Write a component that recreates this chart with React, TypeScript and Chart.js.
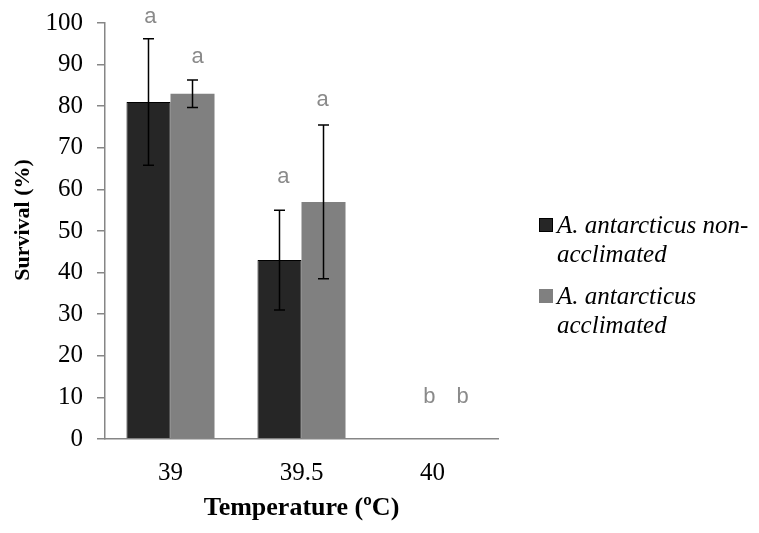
import React, { useEffect, useRef } from "react";
import { Chart, registerables } from "chart.js";

Chart.register(...registerables);

const categories = ["39", "39.5", "40"];
const nonAcclimated = [81, 43, 0];
const acclimated = [83, 57, 0];
const nonAcclimatedErr = [15.2, 12, 0];
const acclimatedErr = [3.3, 18.5, 0];
const nonAcclimatedLetters = ["a", "a", "b"];
const acclimatedLetters = ["a", "a", "b"];
const nonAcclimatedLetterAt = [101.4, 63, 10.1];
const acclimatedLetterAt = [91.8, 81.5, 10.1];
const legendLines = [
  ["A. antarcticus non-", "acclimated"],
  ["A. antarcticus", "acclimated"],
];
const yMin = 0;
const yMax = 100;
const yStep = 10;
const xTitle = "Temperature (\u00baC)";
const yTitle = "Survival (%)";

const DARK = "#262626";
const GRAY = "#808080";
const AXIS = "#868686";
const LETTER = "#8a8a8a";
const SERIF = "'Liberation Serif', 'Times New Roman', serif";
const SANS = "'Liberation Sans', Arial, sans-serif";
const letterDx = [
  [2, 4, 19],
  [5, -1, 8],
];

const errs = [nonAcclimatedErr, acclimatedErr];
const letters = [nonAcclimatedLetters, acclimatedLetters];
const letterAt = [nonAcclimatedLetterAt, acclimatedLetterAt];
const colors = [DARK, GRAY];

const overlayPlugin = {
  id: "overlay",
  afterDatasetsDraw(chart: any) {
    const ctx = chart.ctx as CanvasRenderingContext2D;
    const ys = chart.scales.y;
    ctx.save();
    chart.data.datasets.forEach((ds: any, di: number) => {
      const meta = chart.getDatasetMeta(di);
      meta.data.forEach((bar: any, i: number) => {
        const v = ds.data[i];
        const e = errs[di][i];
        const x = bar.x;
        if (e > 0) {
          const yt = ys.getPixelForValue(v + e);
          const yb = ys.getPixelForValue(v - e);
          ctx.strokeStyle = "#000";
          ctx.lineWidth = 1.5;
          ctx.beginPath();
          ctx.moveTo(x, yt);
          ctx.lineTo(x, yb);
          ctx.moveTo(x - 5.5, yt);
          ctx.lineTo(x + 5.5, yt);
          ctx.moveTo(x - 5.5, yb);
          ctx.lineTo(x + 5.5, yb);
          ctx.stroke();
        }
        ctx.fillStyle = LETTER;
        ctx.font = `22px ${SANS}`;
        ctx.textAlign = "center";
        ctx.textBaseline = "middle";
        ctx.fillText(letters[di][i], x + letterDx[di][i], ys.getPixelForValue(letterAt[di][i]));
      });
    });
    // y-axis title
    ctx.save();
    ctx.translate(23, chart.chartArea.top + 197);
    ctx.rotate(-Math.PI / 2);
    ctx.font = `bold 22px ${SERIF}`;
    ctx.fillStyle = "#000";
    ctx.textAlign = "center";
    ctx.textBaseline = "middle";
    ctx.fillText(yTitle, 0, 0);
    ctx.restore();
    // legend
    const lx = chart.chartArea.right + 41;
    let top = 218;
    ctx.font = `italic 25px ${SERIF}`;
    ctx.textAlign = "left";
    ctx.textBaseline = "middle";
    legendLines.forEach((lines, li) => {
      ctx.fillStyle = colors[li];
      ctx.fillRect(lx, top, 14, 14);
      if (li === 0) {
        ctx.strokeStyle = "#000";
        ctx.lineWidth = 1;
        ctx.strokeRect(lx + 0.5, top + 0.5, 13, 13);
      }
      ctx.fillStyle = "#000";
      lines.forEach((t, k) => {
        ctx.fillText(t, lx + 18, top + 8 + k * 29);
      });
      top += 71;
    });
    ctx.restore();
  },
};

export default function App() {
  const ref = useRef<HTMLCanvasElement | null>(null);
  useEffect(() => {
    if (!ref.current) return;
    const chart = new Chart(ref.current, {
      type: "bar",
      data: {
        labels: categories,
        datasets: [
          {
            label: legendLines[0].join(" "),
            data: nonAcclimated,
            backgroundColor: DARK,
            borderColor: "#000",
            borderWidth: 1,
          },
          {
            label: legendLines[1].join(" "),
            data: acclimated,
            backgroundColor: GRAY,
            borderWidth: 0,
          },
        ],
      },
      options: {
        animation: false,
        responsive: false,
        maintainAspectRatio: false,
        datasets: { bar: { barPercentage: 1, categoryPercentage: 0.672 } },
        layout: { padding: { left: 0, top: 23, right: 261, bottom: 0 } },
        plugins: { legend: { display: false }, tooltip: { enabled: false } },
        scales: {
          x: {
            grid: { display: false, drawTicks: false },
            border: { display: true, color: AXIS, width: 1.5 },
            ticks: { color: "#000", font: { family: SERIF, size: 25 }, padding: 19 },
            title: {
              display: true,
              text: xTitle,
              color: "#000",
              font: { family: SERIF, size: 26, weight: "bold" },
              padding: { top: 0, bottom: 9 },
            },
            afterFit(s: any) {
              s.height = 94;
              s.paddingLeft = 0;
              s.paddingRight = 0;
            },
          },
          y: {
            min: yMin,
            max: yMax,
            grid: {
              display: true,
              drawOnChartArea: false,
              drawTicks: true,
              tickLength: 8,
              color: AXIS,
              lineWidth: 1.5,
            },
            border: { display: true, color: AXIS, width: 1.5 },
            ticks: {
              stepSize: yStep,
              color: "#000",
              font: { family: SERIF, size: 25 },
              padding: 14,
            },
            title: { display: false },
            afterFit(s: any) {
              s.width = 105;
              s.paddingTop = 0;
              s.paddingBottom = 0;
            },
          },
        },
      },
      plugins: [overlayPlugin],
    });
    return () => chart.destroy();
  }, []);
  return (
    <div style={{ position: "fixed", left: 0, top: 0, width: 759, height: 533, background: "#fff" }}>
      <canvas ref={ref} width={759} height={533} style={{ width: 759, height: 533 }} />
    </div>
  );
}
